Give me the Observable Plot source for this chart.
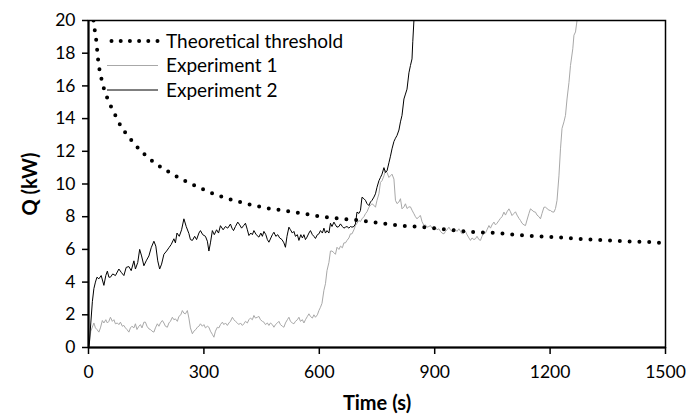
<!DOCTYPE html>
<html>
<head>
<meta charset="utf-8">
<script src="https://cdn.jsdelivr.net/npm/d3@7"></script>
<script src="https://cdn.jsdelivr.net/npm/@observablehq/plot@0.6"></script>
<style>
  html, body { margin: 0; padding: 0; background: white; }
  #wrap { position: relative; width: 691px; height: 414px; font-family: Lato, "DejaVu Sans", sans-serif; }
  #wrap g[aria-label="x-axis label"] text, #wrap g[aria-label="y-axis label"] text { font-weight: bold; font-size: 20px; }
  #legend { position: absolute; left: 0; top: 0; pointer-events: none; }
</style>
</head>
<body>
<div id="wrap"></div>
<script>
// Categories / tick labels
const xTicks = [0, 300, 600, 900, 1200, 1500];
const yTicks = [0, 2, 4, 6, 8, 10, 12, 14, 16, 18, 20];
const seriesNames = ["Theoretical threshold", "Experiment 1", "Experiment 2"];

// Theoretical threshold [time (s), Q (kW)]
const threshold = [
  [13,20],[16,19.45],[20,18.8],[22.5,18.2],[25,17.6],[28.6,17.0],[34,16.4],[40,15.84],[49,15.25],
  [60,14.66],[72,14.1],[85,13.5],[101,13.0],[118,12.5],[135,12.05],[154,11.64],[175,11.24],
  [198,10.9],[220,10.58],[243,10.28],[267,10.0],[291,9.75],[315,9.5],[339,9.28],[363,9.1],
  [388,8.94],[412,8.79],[438,8.65],[463,8.53],[508,8.38],[560,8.18],[606,8.01],[658,7.87],
  [707,7.77],[759,7.6],[809,7.46],[859,7.38],[937,7.2],[1010,7.05],[1062,7.0],[1132,6.85],
  [1210,6.75],[1314,6.59],[1392,6.5],[1465,6.44],[1500,6.38]
];

// Experiment 1 [time (s), Q (kW)]
const experiment1 = [
  [0,0],[3,0.4],[6,1.0],[10,1.25],[14,1.5],[18,1.2],[22,1.1],[27,0.94],[31,1.2],[36,1.65],[40,1.5],
  [45,1.7],[49,1.5],[53,1.6],[57,1.85],[62,1.6],[66,1.7],[70,1.45],[75,1.5],[79,1.4],[83,1.55],
  [88,1.3],[92,1.35],[96,1.2],[100,1.1],[105,0.94],[109,1.2],[113,1.3],[118,1.2],[122,1.45],
  [126,1.1],[131,1.3],[135,1.4],[139,1.2],[144,1.55],[148,1.55],[152,1.3],[157,1.14],[161,1.1],
  [165,1.0],[170,0.94],[174,1.2],[179,1.45],[183,1.3],[187,1.5],[192,1.65],[196,1.5],[200,1.3],
  [205,1.24],[209,1.5],[213,1.6],[218,1.85],[222,1.7],[226,1.75],[231,1.6],[235,1.9],[240,2.0],
  [244,2.26],[248,2.1],[252,2.06],[257,2.26],[261,1.8],[265,1.2],[270,0.84],[274,1.0],[279,1.1],
  [283,1.24],[287,1.3],[291,1.45],[296,1.3],[300,1.4],[304,1.2],[309,1.3],[313,1.24],[317,1.0],
  [322,0.8],[326,0.63],[330,1.0],[335,1.24],[339,1.2],[343,1.4],[348,1.55],[352,1.4],[356,1.5],
  [361,1.35],[365,1.5],[369,1.6],[374,1.85],[378,1.7],[382,1.6],[387,1.5],[391,1.4],[395,1.5],
  [400,1.35],[404,1.45],[408,1.6],[413,1.5],[417,1.7],[421,1.8],[426,1.7],[430,1.96],[434,1.8],
  [439,1.85],[443,1.9],[447,1.7],[452,1.6],[456,1.55],[460,1.4],[465,1.5],[469,1.35],[473,1.5],
  [478,1.4],[482,1.24],[486,1.4],[491,1.5],[495,1.6],[499,1.4],[504,1.3],[508,1.24],[512,1.5],
  [517,1.7],[521,1.85],[525,1.6],[530,1.5],[534,1.45],[538,1.6],[543,1.7],[547,1.85],[551,1.6],
  [556,1.7],[560,1.5],[564,1.7],[569,1.9],[573,2.06],[577,1.9],[582,1.8],[586,2.0],[590,1.85],
  [595,2.0],[599,2.26],[603,2.46],[607,2.7],[612,3.5],[616,3.9],[620,4.7],[625,5.2],[629,5.9],
  [633,5.9],[638,5.8],[642,5.7],[646,6.13],[651,6.0],[655,6.2],[660,6.1],[664,6.4],[668,6.4],
  [672,6.55],[677,6.7],[681,6.95],[685,6.95],[690,7.2],[694,7.46],[698,7.6],[703,7.77],[707,7.7],
  [711,7.87],[716,8.0],[720,8.18],[724,8.3],[729,8.58],[733,8.7],[737,8.79],[742,8.7],[746,8.58],
  [750,9.0],[755,9.4],[759,10.1],[763,10.2],[768,10.5],[772,10.83],[776,10.7],[781,10.4],[785,10.5],
  [789,10.6],[794,10.3],[798,9.0],[802,8.8],[807,8.9],[811,9.1],[815,8.48],[820,8.6],[824,8.79],
  [828,8.5],[833,8.6],[837,8.6],[841,8.4],[846,8.18],[850,8.0],[854,7.87],[859,8.0],[863,8.07],
  [867,7.7],[872,7.46],[876,7.5],[880,7.36],[885,7.4],[889,7.46],[893,7.3],[898,7.4],[902,7.36],
  [906,7.2],[911,7.26],[915,7.1],[919,7.0],[924,6.95],[928,7.1],[932,7.2],[937,7.36],[941,7.2],
  [945,7.1],[950,7.3],[954,7.2],[958,7.1],[963,7.26],[967,7.1],[971,6.95],[976,7.0],[980,7.1],
  [984,6.9],[989,6.7],[993,6.55],[997,6.7],[1002,6.6],[1006,6.65],[1010,6.8],[1015,6.6],[1019,6.55],
  [1023,6.8],[1028,7.05],[1032,7.0],[1036,7.2],[1041,7.46],[1045,7.3],[1049,7.5],[1054,7.67],
  [1058,7.5],[1062,7.6],[1067,7.77],[1071,7.9],[1075,8.0],[1080,8.28],[1084,8.1],[1088,8.3],
  [1093,8.48],[1097,8.3],[1101,8.07],[1106,8.2],[1110,8.3],[1114,8.1],[1119,7.9],[1123,7.77],
  [1127,7.6],[1132,7.5],[1136,7.46],[1140,7.8],[1145,8.2],[1149,8.48],[1153,8.4],[1158,8.3],
  [1162,8.28],[1166,8.1],[1171,8.0],[1175,7.87],[1179,8.2],[1184,8.58],[1188,8.58],[1192,8.5],
  [1197,8.4],[1201,8.38],[1205,8.3],[1210,8.28],[1214,8.5],[1218,9.0],[1223,10.5],[1227,12.15],
  [1231,13.4],[1236,13.8],[1240,14.2],[1244,15.2],[1249,16.2],[1253,17.25],[1259,18.27],
  [1262,19.1],[1266,19.3],[1270,20]
];

// Experiment 2 [time (s), Q (kW)]
const experiment2 = [
  [0,0],[2,0.2],[6,1.5],[10,2.8],[14,3.6],[18,4.0],[22,4.3],[27,4.2],[33,4.4],[40,3.8],[45,4.4],
  [49,4.67],[53,4.3],[57,4.3],[63,4.5],[70,4.4],[79,4.8],[85,4.6],[92,4.4],[98,4.9],[105,4.95],
  [111,4.7],[118,5.3],[122,4.8],[128,5.2],[133,6.0],[138,5.6],[144,5.0],[150,5.3],[157,5.6],
  [163,6.1],[170,6.5],[175,6.2],[180,5.3],[185,4.8],[190,5.1],[196,5.7],[203,5.9],[209,6.1],
  [215,6.3],[222,6.65],[226,6.4],[230,7.0],[236,6.8],[242,7.2],[248,7.87],[254,7.4],[261,6.97],
  [265,6.6],[270,6.55],[276,6.8],[281,6.6],[287,7.0],[291,7.15],[297,6.9],[304,6.8],[309,6.5],
  [313,5.9],[317,6.4],[322,7.15],[327,6.9],[333,7.2],[338,7.0],[343,7.45],[350,7.2],[356,7.4],
  [362,7.3],[369,7.55],[373,7.3],[377,7.15],[382,7.4],[388,7.67],[393,7.5],[398,7.3],[403,7.45],
  [408,7.6],[413,7.2],[417,6.85],[422,7.0],[426,6.9],[430,7.15],[436,6.9],[443,6.75],[448,7.0],
  [452,6.8],[456,7.1],[461,6.9],[465,6.6],[469,6.44],[474,6.7],[478,6.9],[482,7.05],[487,6.8],
  [492,6.9],[497,6.7],[503,6.6],[508,6.4],[512,6.13],[516,6.8],[521,7.36],[525,7.2],[530,7.0],
  [534,7.1],[538,6.8],[543,6.9],[547,6.55],[552,6.9],[556,6.7],[560,6.9],[564,6.6],[568,6.75],
  [573,7.0],[577,7.15],[582,6.9],[586,6.8],[590,6.67],[595,6.9],[599,6.95],[603,7.15],[608,7.0],
  [612,7.3],[616,7.0],[620,7.15],[625,7.0],[629,7.6],[633,7.4],[638,7.67],[642,7.5],[646,7.36],
  [651,7.4],[655,7.56],[660,7.4],[664,7.3],[668,7.36],[672,7.4],[677,7.3],[681,7.4],[685,7.36],
  [690,7.4],[694,7.56],[698,8.28],[703,8.2],[707,8.38],[711,9.19],[716,9.1],[720,9.0],[724,8.8],
  [729,8.68],[733,8.9],[737,9.0],[742,9.2],[746,9.4],[750,9.8],[755,10.2],[759,10.4],[763,10.6],
  [768,11.0],[772,10.7],[776,10.8],[781,11.3],[785,11.7],[789,12.15],[794,12.6],[798,12.8],
  [802,12.97],[807,13.3],[811,13.8],[815,14.2],[820,15.2],[824,15.5],[828,15.8],[833,16.8],
  [837,17.25],[841,17.65],[843,18.7],[846,20]
];

const toRows = (arr) => arr.map(([t, q]) => ({t, q}));

const chart = Plot.plot({
  width: 691,
  height: 414,
  marginLeft: 88,
  marginRight: 26,
  marginTop: 20,
  marginBottom: 67,
  style: {fontFamily: "Lato, 'DejaVu Sans', sans-serif", fontSize: "17.5px", color: "black", background: "white", overflow: "visible"},
  x: {domain: [0, 1500]},
  y: {domain: [0, 20]},
  marks: [
    Plot.line(toRows(experiment1), {x: "t", y: "q", stroke: "#a8a8a8", strokeWidth: 1, clip: true}),
    Plot.line(toRows(experiment2), {x: "t", y: "q", stroke: "black", strokeWidth: 1, clip: true}),
    Plot.line(toRows(threshold), {x: "t", y: "q", stroke: "black", strokeWidth: 4, strokeDasharray: "0 9.8", strokeLinecap: "round", curve: "monotone-x", clip: true}),
    Plot.frame({stroke: "black", strokeWidth: 1.5}),
    Plot.ruleX([0], {stroke: "black", strokeWidth: 2}),
    Plot.ruleY([0], {stroke: "black", strokeWidth: 2}),
    Plot.axisX({ticks: xTicks, tickFormat: (d) => String(d), tickSize: 7, tickPadding: 11, strokeWidth: 1.5, label: "Time (s)", labelAnchor: "center", labelArrow: "none", labelOffset: 62}),
    Plot.axisY({ticks: yTicks, tickFormat: (d) => String(d), tickSize: 6, tickPadding: 7, strokeWidth: 1.5, label: "Q (kW)", labelAnchor: "center", labelArrow: "none", labelOffset: 66})
  ]
});

const wrap = document.getElementById("wrap");
wrap.appendChild(chart);

// Legend overlay (inside plot, top-left)
const ns = "http://www.w3.org/2000/svg";
const leg = document.createElementNS(ns, "svg");
leg.setAttribute("id", "legend");
leg.setAttribute("width", 691);
leg.setAttribute("height", 414);
const styles = [
  {stroke: "black", width: 4, dash: "0 9.2", cap: "round"},
  {stroke: "#a8a8a8", width: 1, dash: null, cap: "butt"},
  {stroke: "black", width: 1, dash: null, cap: "butt"}
];
seriesNames.forEach((name, i) => {
  const cy = 41 + i * 24.5;
  const ln = document.createElementNS(ns, "line");
  ln.setAttribute("x1", i === 0 ? 111.5 : 107);
  ln.setAttribute("x2", 158);
  ln.setAttribute("y1", cy);
  ln.setAttribute("y2", cy);
  ln.setAttribute("stroke", styles[i].stroke);
  ln.setAttribute("stroke-width", styles[i].width);
  ln.setAttribute("stroke-linecap", styles[i].cap);
  if (styles[i].dash) ln.setAttribute("stroke-dasharray", styles[i].dash);
  leg.appendChild(ln);
  const tx = document.createElementNS(ns, "text");
  tx.setAttribute("x", 166);
  tx.setAttribute("y", cy);
  tx.setAttribute("dy", "0.35em");
  tx.setAttribute("font-family", "Lato, 'DejaVu Sans', sans-serif");
  tx.setAttribute("font-size", "19px");
  tx.setAttribute("fill", "black");
  tx.textContent = name;
  leg.appendChild(tx);
});
wrap.appendChild(leg);
</script>
</body>
</html>
